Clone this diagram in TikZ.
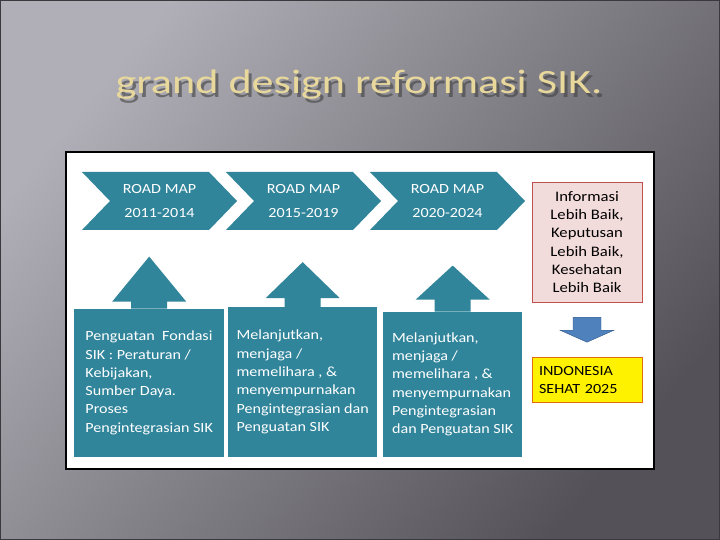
\documentclass[tikz,border=0pt]{standalone}
\usepackage{fontspec}
\setmainfont{Carlito}[FakeStretch=1.15]
\newfontfamily\ttlfont{Carlito}[FakeStretch=1.3]
\usetikzlibrary{positioning,shapes.symbols,calc}

\definecolor{rmteal}{RGB}{49,133,155}
\definecolor{bgtop}{RGB}{176,174,182}
\definecolor{bgmid}{RGB}{112,110,116}
\definecolor{bgbot}{RGB}{84,82,88}
\definecolor{ttlcol}{RGB}{232,216,156}
\definecolor{infofill}{RGB}{242,220,219}
\definecolor{infoline}{RGB}{192,80,77}
\definecolor{dnfill}{RGB}{79,129,189}
\definecolor{dnline}{RGB}{56,93,138}
\definecolor{yelline}{RGB}{228,108,10}

\begin{document}
\begin{tikzpicture}[
  x=1pt, y=-1pt,
  ttl/.style={anchor=base, inner sep=0pt, font=\ttlfont\fontsize{34}{40}\selectfont},
  chev/.style={signal, signal from=west, signal to=east, signal pointer angle=92,
               fill=rmteal, text=white, minimum width=155pt, minimum height=58pt,
               inner sep=0pt, outer sep=0pt, align=center,
               font=\fontsize{14}{24}\selectfont},
  blk/.style={fill=rmteal, text=white, align=left, inner sep=0pt, anchor=south west,
              font=\fontsize{14}{18.3}\selectfont},
  info/.style={draw=infoline, fill=infofill, minimum width=110pt, minimum height=120pt,
               inner sep=0pt, align=center, font=\fontsize{14.5}{18.3}\selectfont},
  yel/.style={draw=yelline, fill=yellow, text width=96pt, inner xsep=7pt, inner ysep=0pt,
              minimum height=45pt, align=left, font=\fontsize{14}{18}\selectfont},
]
  \useasboundingbox (0,0) rectangle (720,540);
  \shade[top color=bgtop, middle color=bgmid, bottom color=bgbot, shading angle=50]
    (0,0) rectangle (720,540);
  \draw[bgbot!70!black, line width=1pt] (0.5,0.5) rectangle (719.5,539.5);

  % title
  \node[ttl, text=black!75, opacity=0.6] (ttlsh) at (362,98) {grand design reformasi SIK.};
  \node[ttl, text=ttlcol] (ttl) at (359,94) {grand design reformasi SIK.};

  \draw[line width=1.5pt, fill=white] (66,152) rectangle (654,469);

  % road maps
  \foreach \n/\x/\t in {c1/159.5/2011-2014, c2/303.5/2015-2019, c3/447.5/2020-2024}
    \node[chev] (\n) at (\x,201) {ROAD MAP\\\t};

  \node[blk, minimum width=150pt, minimum height=148pt] (b1) at (74,457)
    {Penguatan\ \ Fondasi\\SIK : Peraturan /\\Kebijakan,\\Sumber Daya.\\Proses\\Pengintegrasian SIK};
  \node[blk, minimum width=149pt, minimum height=149.5pt] (b2) at (228,457)
    {Melanjutkan,\\menjaga /\\memelihara , \&\\menyempurnakan\\Pengintegrasian dan\\Penguatan SIK};
  \node[blk, minimum width=139pt, minimum height=145pt] (b3) at (383,457)
    {Melanjutkan,\\menjaga /\\memelihara , \&\\menyempurnakan\\Pengintegrasian\\dan Penguatan SIK};

  \foreach \b/\h/\s in {b1/52/7, b2/45/9, b3/46/12}
    \fill[rmteal] ([xshift=-18pt]\b.north) -- ++(0,-\s) -- ++(-19,0) -- ++(37,{\s-\h})
      -- ++(37,{\h-\s}) -- ++(-19,0) -- ++(0,\s) -- cycle;

  \node[info] (inf) at (587,242)
    {Informasi\\Lebih Baik,\\Keputusan\\Lebih Baik,\\Kesehatan\\Lebih Baik};
  \node[yel, below=55pt of inf] (yel) {INDONESIA\\SEHAT 2025};

  \coordinate (dn) at ($(inf.south)!0.5!(yel.north)$);
  \filldraw[fill=dnfill, draw=dnline] ($(dn)+(-14,-12.5)$) -- ++(28,0) -- ++(0,13) -- ++(13,0)
    -- ++(-27,12) -- ++(-27,-12) -- ++(13,0) -- cycle;
\end{tikzpicture}
\end{document}
